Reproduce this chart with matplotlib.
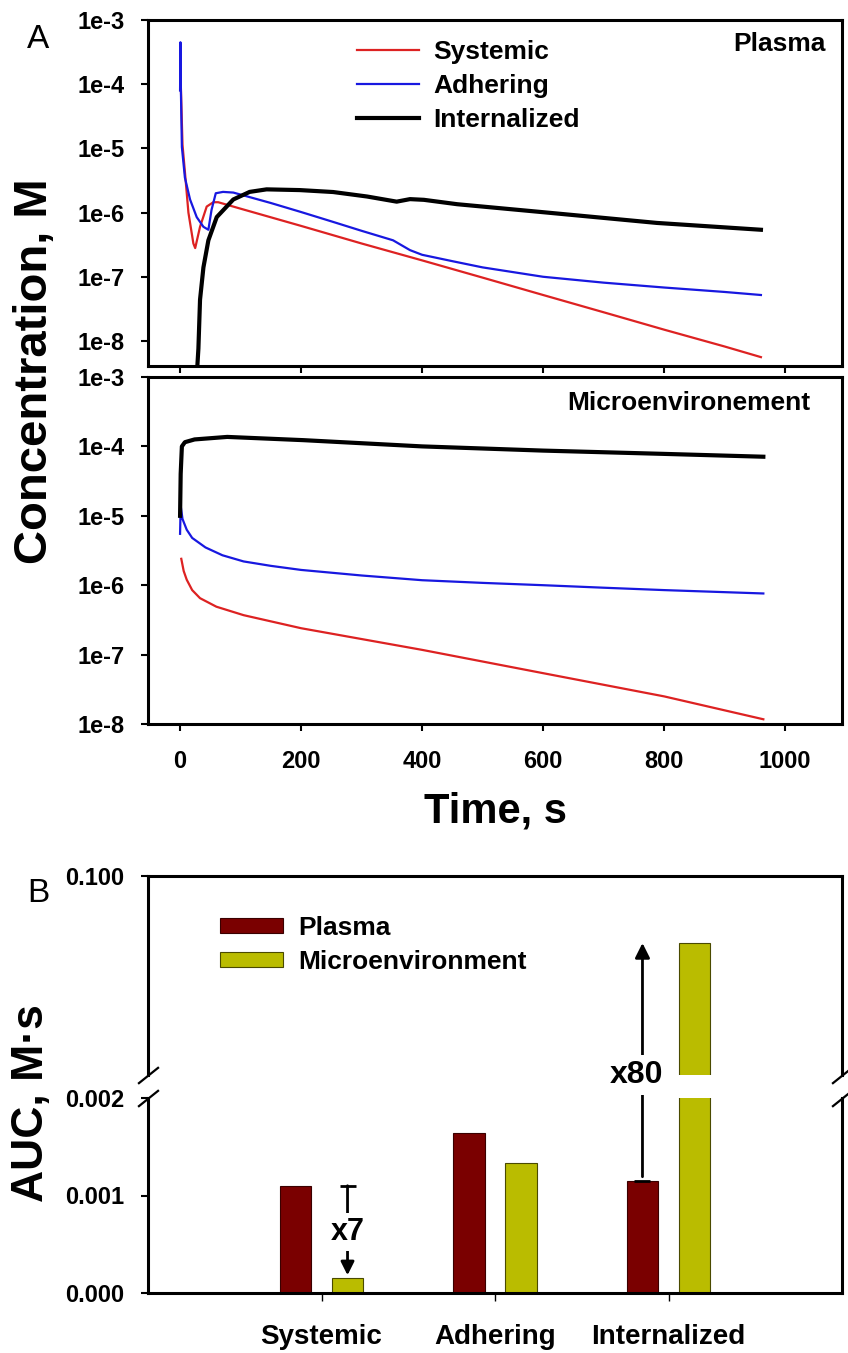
import numpy as np
import matplotlib
matplotlib.use('Agg')
import matplotlib.pyplot as plt
from matplotlib.ticker import FixedLocator, FuncFormatter, NullLocator
from matplotlib.lines import Line2D
from matplotlib.patches import Patch, ConnectionPatch
import matplotlib.transforms as mtransforms

plt.rcParams['font.family'] = ['Liberation Sans', 'DejaVu Sans']
plt.rcParams['font.weight'] = 'bold'

# --------------------------------------------------------------------------
# Data
# --------------------------------------------------------------------------

# Panel A, plasma
t_pl_sys = [1.2, 4, 8.3, 13.8, 22, 25, 33, 44, 55, 63, 100, 200, 300, 400,
            500, 600, 700, 800, 900, 960]
c_pl_sys = [1e-4, 1.15e-5, 4e-6, 1e-6, 3.3e-7, 2.8e-7, 6e-7, 1.24e-6, 1.45e-6,
            1.45e-6, 1.15e-6, 6.2e-7, 3.3e-7, 1.8e-7, 9.7e-8, 5.2e-8, 2.8e-8,
            1.5e-8, 8.2e-9, 5.6e-9]

t_pl_adh = [0, 0.6, 1.2, 3, 8, 16.5, 27.5, 38.6, 46.8, 52, 59, 71, 88, 150,
            200, 250, 300, 352, 380, 400, 450, 500, 600, 700, 800, 900, 960]
c_pl_adh = [8e-5, 4.5e-4, 1e-4, 1.05e-5, 3.5e-6, 1.6e-6, 8.5e-7, 6e-7, 5.4e-7,
            1.1e-6, 2e-6, 2.1e-6, 2.05e-6, 1.41e-6, 1.02e-6, 7.3e-7, 5.2e-7,
            3.7e-7, 2.6e-7, 2.2e-7, 1.75e-7, 1.4e-7, 1e-7, 8.1e-8, 6.8e-8,
            5.8e-8, 5.2e-8]

t_pl_int = [27, 28.5, 30.3, 33, 38.6, 46.8, 60.6, 88, 115, 143, 198, 253, 309,
            358, 380, 403, 458, 597, 788, 960]
c_pl_int = [2e-9, 4e-9, 7.6e-9, 4.4e-8, 1.4e-7, 3.7e-7, 8.5e-7, 1.6e-6, 2.1e-6,
            2.3e-6, 2.24e-6, 2.09e-6, 1.78e-6, 1.48e-6, 1.62e-6, 1.58e-6,
            1.35e-6, 1.02e-6, 6.9e-7, 5.4e-7]

# Panel A, microenvironment
t_mi_sys = [2, 6, 11, 20, 33, 60, 105, 200, 400, 600, 800, 964]
c_mi_sys = [2.4e-6, 1.6e-6, 1.2e-6, 8.5e-7, 6.5e-7, 4.9e-7, 3.7e-7, 2.4e-7,
            1.17e-7, 5.4e-8, 2.5e-8, 1.17e-8]

t_mi_adh = [0, 1, 4, 11, 20, 42, 70, 105, 150, 200, 300, 400, 500, 600, 700,
            800, 964]
c_mi_adh = [5.5e-6, 1.4e-5, 9e-6, 6.3e-6, 4.8e-6, 3.5e-6, 2.7e-6, 2.2e-6,
            1.9e-6, 1.66e-6, 1.38e-6, 1.18e-6, 1.08e-6, 1e-6, 9.2e-7, 8.5e-7,
            7.6e-7]

t_mi_int = [0, 1, 3, 8, 24, 78, 204, 400, 600, 800, 964]
c_mi_int = [1e-5, 4e-5, 1.0e-4, 1.15e-4, 1.26e-4, 1.37e-4, 1.23e-4, 1.0e-4,
            8.7e-5, 7.8e-5, 7.1e-5]

series_names = ['Systemic', 'Adhering', 'Internalized']
series_colors = ['#DD2222', '#1818E0', 'black']
series_widths = [1.6, 1.6, 3.0]

# Panel B, AUC
categories = ['Systemic', 'Adhering', 'Internalized']
auc_plasma = [0.00110, 0.00164, 0.00115]
auc_micro = [0.000154, 0.00133, 0.067]
fold_labels = ['x7', 'x80']

conc_ticks = [1e-8, 1e-7, 1e-6, 1e-5, 1e-4, 1e-3]
time_ticks = [0, 200, 400, 600, 800, 1000]

# --------------------------------------------------------------------------
# Layout helpers (pixel boxes on an 848 x 1353 canvas)
# --------------------------------------------------------------------------
W, H = 848, 1353
fig = plt.figure(figsize=(W / 100, H / 100), dpi=100)


def box(l, t, r, b):
    return [l / W, 1 - b / H, (r - l) / W, (b - t) / H]


ax1 = fig.add_axes(box(148, 20, 842, 366))
ax2 = fig.add_axes(box(148, 377, 842, 724))
ax_up = fig.add_axes(box(148, 876, 842, 1075))
ax_lo = fig.add_axes(box(148, 1098, 842, 1293))

SPINE_W = 2.2
TICK_FS = 17


def exp_fmt(v, _):
    return f"1e{int(round(np.log10(v)))}"


def style_axes(ax):
    for s in ax.spines.values():
        s.set_linewidth(SPINE_W)
    ax.tick_params(direction='out', length=5, width=1.5, labelsize=TICK_FS,
                   pad=12)
    for lab in ax.get_yticklabels() + ax.get_xticklabels():
        lab.set_fontweight('bold')


# --------------------------------------------------------------------------
# Panel A
# --------------------------------------------------------------------------
plasma = [(t_pl_sys, c_pl_sys), (t_pl_adh, c_pl_adh), (t_pl_int, c_pl_int)]
micro = [(t_mi_sys, c_mi_sys), (t_mi_adh, c_mi_adh), (t_mi_int, c_mi_int)]

for ax, curves in [(ax1, plasma), (ax2, micro)]:
    for (t, c), col, lw in zip(curves, series_colors, series_widths):
        ax.plot(t, c, color=col, lw=lw, solid_joinstyle='round')
    ax.set_yscale('log')
    ax.set_xlim(-53, 1094)
    ax.yaxis.set_major_locator(FixedLocator(conc_ticks))
    ax.yaxis.set_major_formatter(FuncFormatter(exp_fmt))
    ax.yaxis.set_minor_locator(NullLocator())
    ax.set_xticks(time_ticks)
    ax.tick_params(top=False, right=False)
    style_axes(ax)

ax1.set_ylim(10 ** -8.39, 1e-3)
ax2.set_ylim(1e-8, 1e-3)
ax1.tick_params(axis='x', labelbottom=False)
ax2.tick_params(axis='x', pad=14)
for lab in ax2.get_xticklabels():
    lab.set_fontweight('bold')

ax1.text(0.976, 0.93, 'Plasma', transform=ax1.transAxes, ha='right',
         va='center', fontsize=19, fontweight='bold')
ax2.text(0.955, 0.924, 'Microenvironement', transform=ax2.transAxes,
         ha='right', va='center', fontsize=19, fontweight='bold')

handles = [Line2D([], [], color=c, lw=w) for c, w in
           zip(series_colors, series_widths)]
ax1.legend(handles, series_names, loc='upper left', frameon=False,
           bbox_to_anchor=(357 / W, 1 - 40 / H), bbox_transform=fig.transFigure,
           borderpad=0, borderaxespad=0, handlelength=2.35, handletextpad=0.55,
           labelspacing=0.38, prop=dict(size=19, weight='bold'))

fig.text(35 / W, 1 - 371 / H, 'Concentration, M', rotation=90, ha='center',
         va='center', fontsize=34, fontweight='bold')
fig.text(496 / W, 1 - 812 / H, 'Time, s', ha='center', va='center',
         fontsize=30, fontweight='bold')
fig.text(38 / W, 1 - 40 / H, 'A', ha='center', va='center', fontsize=24,
         fontweight='normal')

# --------------------------------------------------------------------------
# Panel B (broken y axis)
# --------------------------------------------------------------------------
PLASMA_C = '#7A0000'
MICRO_C = '#BABC00'
x = np.arange(len(categories))
off, bw = 0.15, 0.18

for ax in (ax_up, ax_lo):
    ax.bar(x - off, auc_plasma, bw, color=PLASMA_C, edgecolor='#3a0000',
           lw=0.8)
    ax.bar(x + off, auc_micro, bw, color=MICRO_C, edgecolor='#4a4a00', lw=0.8)
    ax.set_xlim(-1.0, 3.0)
    style_axes(ax)

ax_lo.set_ylim(0, 0.002)
ax_lo.set_yticks([0, 0.001, 0.002])
ax_lo.set_yticklabels(['0.000', '0.001', '0.002'], fontweight='bold')
ax_lo.spines['top'].set_visible(False)
ax_lo.set_xticks(x)
ax_lo.set_xticklabels(categories, fontsize=20, fontweight='bold')
ax_lo.tick_params(axis='x', length=6, width=1, pad=16)

ax_up.set_ylim(0.002, 0.1)
ax_up.set_yticks([0.1])
ax_up.set_yticklabels(['0.100'], fontweight='bold')
ax_up.spines['bottom'].set_visible(False)
ax_up.tick_params(axis='x', bottom=False, labelbottom=False)

# break marks
kw = dict(marker=[(-1, -0.8), (1, 0.8)], markersize=15, linestyle='none',
          color='k', mec='k', mew=1.6, clip_on=False)
ax_up.plot([0, 1], [0, 0], transform=ax_up.transAxes, **kw)
ax_lo.plot([0, 1], [1, 1], transform=ax_lo.transAxes, **kw)

leg_handles = [Patch(facecolor=PLASMA_C, edgecolor='#3a0000', lw=0.8),
               Patch(facecolor=MICRO_C, edgecolor='#4a4a00', lw=0.8)]
ax_up.legend(leg_handles, ['Plasma', 'Microenvironment'], loc='upper left',
             frameon=False, bbox_to_anchor=(220 / W, 1 - 916 / H),
             bbox_transform=fig.transFigure, borderpad=0, borderaxespad=0,
             handlelength=2.4, handleheight=0.53, handletextpad=0.55,
             labelspacing=0.38, prop=dict(size=19, weight='bold'))

# x7 annotation (systemic)
xs = x[0] + off
ax_lo.plot(xs, auc_plasma[0], marker='_', ms=12, mew=2, color='k')
ax_lo.annotate('', xy=(xs, auc_micro[0]), xytext=(xs, auc_plasma[0]),
               arrowprops=dict(arrowstyle='-|>', lw=2, color='k',
                               shrinkA=0, shrinkB=2, mutation_scale=20))
ax_lo.text(xs, (auc_plasma[0] + auc_micro[0]) / 2, fold_labels[0],
           ha='center', va='center', fontsize=22, fontweight='bold',
           bbox=dict(facecolor='white', edgecolor='none', pad=3))

# x80 annotation (internalized), arrow spans both halves of the broken axis
xi = x[2] - off
ax_lo.plot(xi, auc_plasma[2], marker='_', ms=11, mew=2, color='k',
           clip_on=False)
con = ConnectionPatch(xyA=(xi, auc_plasma[2]), coordsA=ax_lo.transData,
                      xyB=(xi, auc_micro[2]), coordsB=ax_up.transData,
                      arrowstyle='-|>', lw=2, color='k', shrinkA=3, shrinkB=0,
                      mutation_scale=22, zorder=3)
fig.add_artist(con)
blend = mtransforms.blended_transform_factory(ax_up.transData,
                                              ax_up.transAxes)
fig.text(xi, 0.0, fold_labels[1],
         transform=mtransforms.offset_copy(blend, fig=fig, x=-4, y=0,
                                           units='points'),
         ha='center', va='center', fontsize=23, fontweight='bold',
         bbox=dict(facecolor='white', edgecolor='none', pad=4), zorder=6)

fig.text(32 / W, 1 - 1103 / H, 'AUC, M\u00b7s', rotation=90, ha='center',
         va='center', fontsize=32, fontweight='bold')
fig.text(38 / W, 1 - 893 / H, 'B', ha='center', va='center', fontsize=24,
         fontweight='normal')

fig.savefig('out.png', dpi=100)
